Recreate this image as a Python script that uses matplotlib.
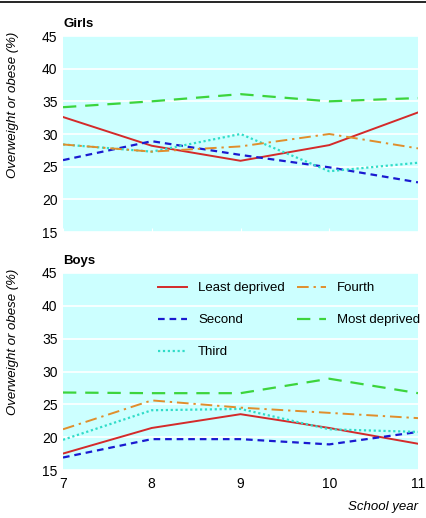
import matplotlib
matplotlib.use("Agg")
import matplotlib.pyplot as plt
from matplotlib.lines import Line2D

plt.rcParams['font.family'] = ['Liberation Sans', 'DejaVu Sans']

years = [7, 8, 9, 10, 11]
series_names = ["Least deprived", "Second", "Third", "Fourth", "Most deprived"]

girls_least = [32.6, 28.2, 25.9, 28.3, 33.3]
girls_second = [26.0, 28.9, 26.8, 24.9, 22.6]
girls_third = [28.4, 27.3, 30.0, 24.3, 25.6]
girls_fourth = [28.4, 27.3, 28.1, 30.0, 27.8]
girls_most = [34.1, 35.0, 36.1, 35.0, 35.5]

boys_least = [17.5, 21.4, 23.5, 21.4, 19.0]
boys_second = [16.9, 19.7, 19.7, 18.9, 20.8]
boys_third = [19.6, 24.1, 24.3, 21.2, 20.8]
boys_fourth = [21.2, 25.6, 24.5, 23.7, 22.9]
boys_most = [26.8, 26.7, 26.7, 28.9, 26.7]

yticks = [15, 20, 25, 30, 35, 40, 45]

styles = [
    dict(color="#d42a2a", linestyle="-", lw=1.4),
    dict(color="#1a1ad0", linestyle=(0, (3, 2.2)), lw=1.6),
    dict(color="#30dcc8", linestyle=(0, (1, 1.2)), lw=1.6),
    dict(color="#e08e2c", linestyle=(0, (6, 2.5, 1.2, 2.5)), lw=1.4),
    dict(color="#3cd43c", linestyle=(0, (6, 4)), lw=1.6),
]

FS = 9.5
W, H = 426, 518
fig = plt.figure(figsize=(W / 100, H / 100), dpi=100)

def make_ax(top_px, bot_px):
    l, r = 63, 418
    return fig.add_axes([l / W, 1 - bot_px / H, (r - l) / W, (bot_px - top_px) / H])

ax1 = make_ax(36, 232)
ax2 = make_ax(273, 470)

panels = [
    (ax1, "Girls", [girls_least, girls_second, girls_third, girls_fourth, girls_most]),
    (ax2, "Boys", [boys_least, boys_second, boys_third, boys_fourth, boys_most]),
]

for ax, title, data in panels:
    ax.set_facecolor("#ccffff")
    for s in ax.spines.values():
        s.set_visible(False)
    ax.set_xlim(7, 11)
    ax.set_ylim(15, 45)
    ax.set_yticks(yticks)
    ax.set_xticks(years)
    ax.grid(axis='y', color='white', lw=1.2)
    ax.set_axisbelow(True)
    ax.tick_params(axis='y', length=0, labelsize=FS + 0.5, pad=4)
    for vals, st in zip(data, styles):
        ax.plot(years, vals, **st)
    ax.text(0, 1.03, title, transform=ax.transAxes, fontsize=FS, fontweight='bold',
            ha='left', va='bottom')
    ax.set_ylabel("Overweight or obese (%)", fontstyle='italic', fontsize=FS)
    ax.yaxis.set_label_coords(-0.125, 0.65)

ax1.tick_params(axis='x', direction='in', length=3, color='white', labelbottom=False)
ax2.tick_params(axis='x', length=0, labelsize=FS + 0.5, pad=5)

handles = [Line2D([], [], **st) for st in styles]
ax2.legend(handles, series_names, ncol=2, frameon=False, loc='upper left',
           bbox_to_anchor=((158 - 63) / 355, (470 - 282) / 197), fontsize=FS,
           handlelength=2.2, handletextpad=0.85, labelspacing=1.5,
           columnspacing=0.9, borderpad=0, borderaxespad=0)

fig.text(418 / W, 1 - 507 / H, "School year", fontstyle='italic', fontsize=FS,
         ha='right', va='center')
fig.add_artist(Line2D([0, 1], [1 - 2 / H, 1 - 2 / H], color='black', lw=1.2,
                      transform=fig.transFigure))

fig.savefig("out.png", dpi=100)
